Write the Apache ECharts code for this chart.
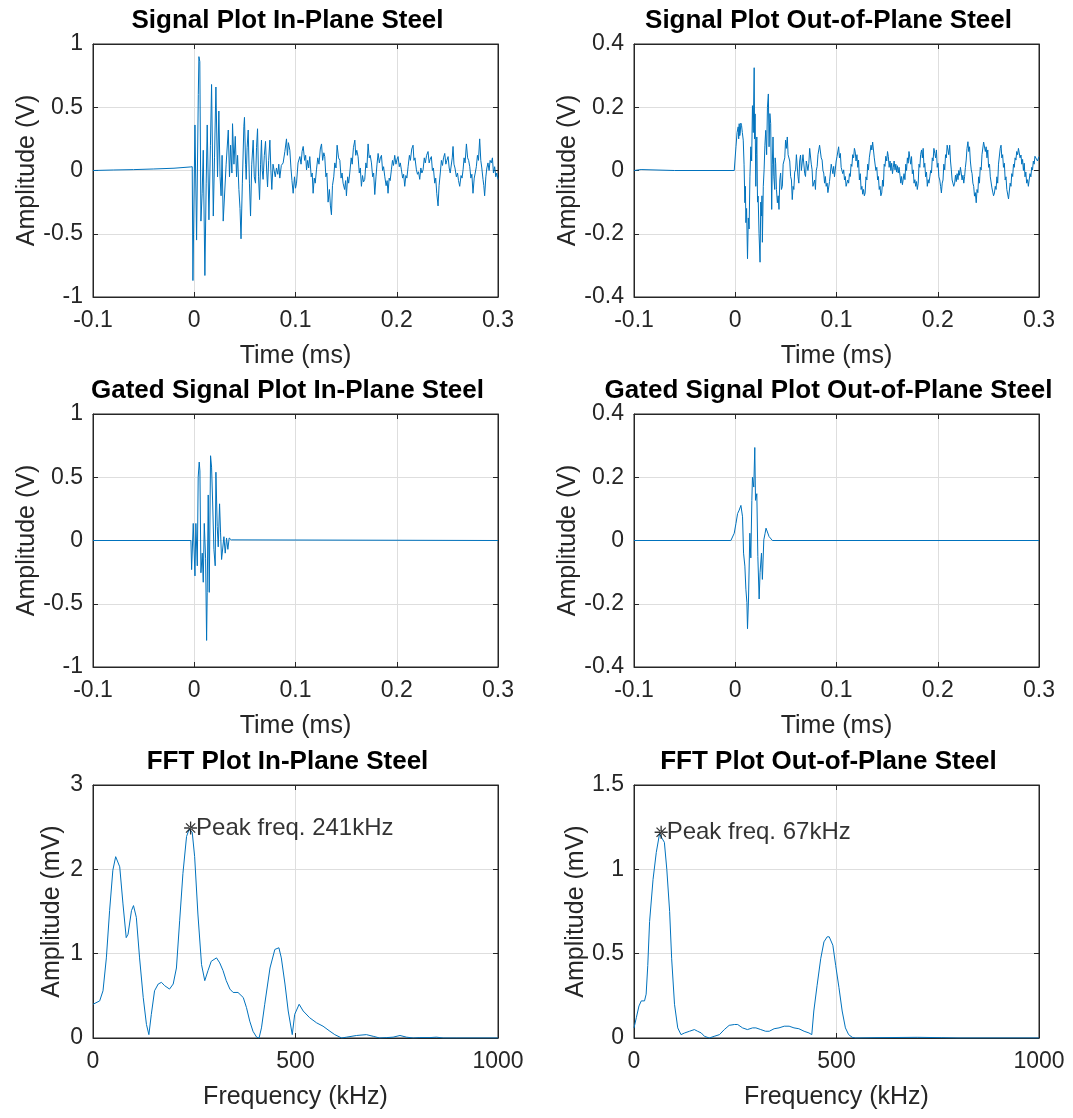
<!DOCTYPE html>
<html>
<head>
<meta charset="utf-8">
<title>Steel signal and FFT plots</title>
<script src="https://cdn.jsdelivr.net/npm/echarts@6/dist/echarts.min.js"></script>
<style>
  html, body { margin: 0; padding: 0; background: #ffffff; }
  #chart { width: 1073px; height: 1118px; }
</style>
</head>
<body>
<div id="chart"></div>
<script>
// ---- Recorded waveforms: [time (ms), amplitude (V)] ----
const inPlaneSignal = [
  [-0.100, 0.000], [-0.080, 0.004], [-0.060, 0.007], [-0.040, 0.012], [-0.020, 0.018], [-0.004, 0.028], [-0.002, 0.030],
  [-0.0013, -0.87], [0.0007, 0.36], [0.0023, -0.55], [0.0040, 0.60], [0.0046, 0.90], [0.0055, 0.86], [0.0066, -0.40],
  [0.0078, -0.18], [0.0089, 0.16], [0.0105, -0.83], [0.0118, -0.10], [0.0128, 0.36], [0.0145, -0.39], [0.0160, 0.20],
  [0.0171, 0.68], [0.0188, -0.36], [0.0200, 0.10], [0.0214, 0.66], [0.0230, -0.05], [0.0243, 0.47], [0.0255, -0.05],
  [0.0265, -0.20], [0.0275, 0.12], [0.0286, -0.40], [0.0303, -0.41], [0.0315, 0.05], [0.0336, 0.32], [0.0348, -0.05],
  [0.0359, 0.20], [0.0372, -0.02], [0.0378, 0.37], [0.0392, 0.05], [0.0405, 0.27], [0.0418, -0.05], [0.0428, 0.12],
  [0.0441, -0.15], [0.0452, -0.30], [0.0462, -0.54], [0.0475, -0.10], [0.0490, 0.35], [0.0496, 0.42], [0.0507, 0.05],
  [0.0513, -0.07], [0.0522, 0.18], [0.0533, 0.32], [0.0545, -0.10], [0.0556, -0.36], [0.0568, 0.05], [0.0582, 0.24],
  [0.0593, -0.05], [0.0605, -0.10], [0.0615, 0.18], [0.0625, 0.33], [0.0635, -0.05], [0.0645, -0.23], [0.0655, 0.05],
  [0.0664, 0.24], [0.0672, 0.00], [0.0680, -0.07], [0.0692, 0.12], [0.0704, 0.23], [0.0714, 0.02], [0.0724, -0.13],
  [0.0735, 0.08], [0.0747, 0.24], [0.0757, 0.00], [0.0766, -0.15], [0.0778, 0.05], [0.0789, 0.06], [0.0800, -0.05],
  [0.0812, 0.02], [0.0825, -0.03], [0.0835, 0.05], [0.0845, -0.06], [0.0860, 0.04], [0.0878, 0.06], [0.0895, 0.15],
  [0.0911, 0.25], [0.0920, 0.12], [0.0930, 0.22], [0.0944, 0.16], [0.0955, 0.02], [0.0965, -0.08], [0.0977, -0.18],
  [0.0990, -0.05], [0.1000, -0.14], [0.1010, -0.10], [0.1025, 0.06], [0.1043, 0.11], [0.1055, 0.05], [0.1065, 0.15],
  [0.1076, 0.19], [0.1090, 0.08], [0.1100, 0.12], [0.1109, 0.005], [0.1120, 0.08], [0.1130, 0.02], [0.1141, 0.11],
  [0.1155, -0.05], [0.1165, -0.02], [0.1174, -0.18], [0.1185, -0.06], [0.1195, -0.10], [0.1207, 0.005], [0.1220, 0.10],
  [0.1232, 0.05], [0.1245, 0.17], [0.1257, 0.21], [0.1268, 0.08], [0.1280, 0.14], [0.1289, 0.11], [0.1300, -0.05],
  [0.1310, -0.02], [0.1322, -0.25], [0.1335, -0.15], [0.1345, -0.28], [0.1355, -0.35], [0.1365, -0.12], [0.1378, -0.05],
  [0.1388, 0.06], [0.1400, 0.02], [0.1411, 0.20], [0.1425, 0.10], [0.1438, 0.08], [0.1450, -0.06], [0.1460, -0.02],
  [0.1470, -0.10], [0.1485, -0.15], [0.1495, -0.08], [0.1503, -0.20], [0.1515, -0.05], [0.1525, -0.10], [0.1536, -0.02],
  [0.1550, 0.10], [0.1560, 0.05], [0.1572, 0.18], [0.1586, 0.24], [0.1595, 0.12], [0.1605, 0.16], [0.1618, 0.11],
  [0.1630, -0.02], [0.1640, 0.02], [0.1651, -0.125], [0.1662, -0.04], [0.1672, -0.09], [0.1684, -0.07], [0.1695, 0.06],
  [0.1705, 0.02], [0.1717, 0.21], [0.1728, 0.10], [0.1738, 0.12], [0.1750, 0.06], [0.1762, -0.05], [0.1772, -0.02],
  [0.1783, -0.19], [0.1795, -0.05], [0.1805, 0.05], [0.1816, 0.135], [0.1828, 0.06], [0.1838, 0.10], [0.1849, 0.12],
  [0.1860, 0.00], [0.1870, 0.03], [0.1882, -0.05], [0.1895, -0.12], [0.1905, -0.08], [0.1914, -0.18], [0.1925, -0.06],
  [0.1935, -0.08], [0.1947, 0.005], [0.1958, 0.08], [0.1968, 0.04], [0.1980, 0.12], [0.1992, 0.05], [0.2003, 0.09],
  [0.2013, 0.11], [0.2025, 0.03], [0.2035, 0.06], [0.2046, 0.005], [0.2058, -0.06], [0.2068, -0.03], [0.2079, -0.125],
  [0.2090, -0.04], [0.2100, -0.06], [0.2112, 0.03], [0.2125, 0.12], [0.2135, 0.08], [0.2148, 0.17], [0.2161, 0.20],
  [0.2170, 0.08], [0.2180, 0.10], [0.2194, 0.005], [0.2205, -0.03], [0.2215, -0.01], [0.2227, -0.07], [0.2238, 0.02],
  [0.2248, -0.02], [0.2260, 0.005], [0.2272, 0.10], [0.2282, 0.06], [0.2295, 0.12], [0.2309, 0.15], [0.2320, 0.06],
  [0.2330, 0.09], [0.2342, 0.11], [0.2352, 0.00], [0.2362, 0.02], [0.2375, -0.10], [0.2385, -0.06], [0.2395, -0.18],
  [0.2408, -0.28], [0.2418, -0.12], [0.2430, -0.02], [0.2441, 0.08], [0.2452, 0.04], [0.2462, 0.10], [0.2474, 0.135],
  [0.2485, 0.05], [0.2495, 0.08], [0.2507, 0.11], [0.2518, 0.02], [0.2528, -0.02], [0.2539, -0.02], [0.2548, 0.10],
  [0.2556, 0.19], [0.2565, 0.05], [0.2575, 0.02], [0.2589, -0.05], [0.2600, -0.02], [0.2610, -0.08], [0.2622, -0.125],
  [0.2635, -0.04], [0.2645, -0.06], [0.2655, 0.005], [0.2665, 0.10], [0.2675, 0.06], [0.2688, 0.21], [0.2700, 0.10],
  [0.2710, 0.08], [0.2721, 0.03], [0.2732, -0.06], [0.2742, -0.03], [0.2753, -0.18], [0.2765, -0.06], [0.2775, -0.02],
  [0.2786, 0.03], [0.2797, 0.12], [0.2807, 0.08], [0.2819, 0.25], [0.2830, 0.08], [0.2840, 0.02], [0.2852, -0.07],
  [0.2860, -0.12], [0.2868, -0.20], [0.2880, -0.05], [0.2890, 0.02], [0.2901, 0.06], [0.2912, 0.00], [0.2922, 0.08],
  [0.2934, 0.06], [0.2945, 0.10], [0.2955, -0.02], [0.2967, 0.03], [0.2978, -0.05], [0.2988, -0.02], [0.3000, -0.07]
];

const outPlaneSignal = [
  [-0.100, 0.000], [-0.093, 0.003], [-0.0925, 0.000], [-0.060, 0.000], [-0.001, 0.000],
  [0.0007, 0.075], [0.0018, 0.12], [0.0029, 0.138], [0.0034, 0.10], [0.0039, 0.148], [0.0044, 0.11], [0.0049, 0.117],
  [0.0055, 0.15], [0.0062, 0.143], [0.0070, 0.12], [0.0079, 0.096], [0.0087, 0.02], [0.0095, -0.102], [0.0100, -0.05],
  [0.0105, -0.165], [0.0112, -0.12], [0.0121, -0.279], [0.0129, -0.15], [0.0137, -0.185], [0.0145, -0.02], [0.0154, 0.075],
  [0.0162, 0.03], [0.0170, 0.205], [0.0178, 0.12], [0.0187, 0.325], [0.0191, 0.10], [0.0196, 0.179], [0.0203, -0.050],
  [0.0208, 0.05], [0.0213, 0.106], [0.0220, -0.10], [0.0226, -0.081], [0.0235, -0.20], [0.0245, -0.290], [0.0252, -0.10],
  [0.0259, -0.144], [0.0264, -0.08], [0.0268, -0.227], [0.0277, -0.05], [0.0285, 0.002], [0.0293, 0.08], [0.0301, 0.127],
  [0.0310, 0.05], [0.0318, 0.20], [0.0327, 0.242], [0.0334, 0.075], [0.0342, 0.18], [0.0350, 0.148], [0.0360, -0.123],
  [0.0366, 0.02], [0.0373, 0.106], [0.0381, -0.02], [0.0390, -0.060], [0.0394, 0.04], [0.0399, 0.023],
  [0.0407, -0.06], [0.0416, -0.102], [0.0424, -0.08], [0.0432, -0.123], [0.0440, -0.03], [0.0448, -0.008], [0.0456, -0.06],
  [0.0465, -0.050], [0.0473, 0.02], [0.0481, 0.023], [0.0489, 0.04], [0.0497, 0.096], [0.0505, 0.07], [0.0514, 0.106],
  [0.0522, 0.05], [0.0530, 0.044], [0.0538, 0.03], [0.0547, -0.019], [0.0555, -0.03], [0.0563, -0.092], [0.0571, -0.05],
  [0.0579, -0.060], [0.0587, -0.005], [0.0596, 0.002], [0.0604, 0.05], [0.0612, 0.044], [0.0620, -0.02], [0.0628, -0.040],
  [0.0636, 0.03], [0.0645, 0.049], [0.0653, 0.00], [0.0661, 0.002], [0.0669, 0.05], [0.0678, 0.044], [0.0686, -0.01],
  [0.0694, -0.019], [0.0702, 0.03], [0.0710, 0.033], [0.0718, 0.00], [0.0727, 0.023], [0.0735, 0.07], [0.0743, 0.075],
  [0.0751, 0.02], [0.0759, 0.002], [0.0767, -0.05], [0.0776, -0.050], [0.0784, -0.03], [0.0792, -0.060], [0.0800, 0.00],
  [0.0809, 0.013], [0.0817, 0.05], [0.0825, 0.044], [0.0833, 0.08], [0.0841, 0.080], [0.0849, 0.04], [0.0858, 0.033],
  [0.0866, 0.00], [0.0874, -0.008], [0.0882, -0.04], [0.0890, -0.019], [0.0898, -0.05], [0.0907, -0.040], [0.0915, -0.07],
  [0.0923, -0.071], [0.0931, -0.035], [0.0940, -0.040], [0.0948, 0.02], [0.0956, 0.023], [0.0964, -0.01], [0.0972, 0.013],
  [0.0980, -0.02], [0.0989, -0.019], [0.0997, 0.03], [0.1005, 0.044], [0.1013, 0.05], [0.1021, 0.075], [0.1029, 0.04],
  [0.1038, 0.054], [0.1046, 0.01], [0.1054, 0.013], [0.1062, -0.01], [0.1071, 0.002], [0.1079, -0.03], [0.1087, -0.019],
  [0.1095, -0.05], [0.1103, -0.050], [0.1111, -0.03], [0.1120, -0.040], [0.1128, -0.01], [0.1136, -0.019], [0.1144, 0.02],
  [0.1152, 0.013], [0.1160, 0.05], [0.1169, 0.040], [0.1177, 0.07], [0.1185, 0.059], [0.1193, 0.03], [0.1202, 0.050],
  [0.1210, 0.01], [0.1218, 0.033], [0.1226, -0.03], [0.1235, -0.010], [0.1243, -0.06], [0.1251, -0.050], [0.1259, -0.075],
  [0.1267, -0.060], [0.1275, -0.08], [0.1283, -0.071], [0.1291, -0.02], [0.1300, -0.030], [0.1308, 0.02], [0.1316, 0.002],
  [0.1324, 0.04], [0.1333, 0.040], [0.1341, 0.08], [0.1349, 0.065], [0.1357, 0.09], [0.1365, 0.085], [0.1373, 0.04],
  [0.1381, 0.044], [0.1389, 0.00], [0.1398, 0.010], [0.1406, -0.03], [0.1414, -0.019], [0.1422, -0.06], [0.1430, -0.050],
  [0.1438, -0.08], [0.1447, -0.071], [0.1455, -0.03], [0.1463, -0.050], [0.1471, 0.02], [0.1479, 0.013], [0.1487, 0.045],
  [0.1496, 0.030], [0.1504, 0.06], [0.1512, 0.044], [0.1520, 0.01], [0.1529, 0.030], [0.1537, 0.00], [0.1545, 0.023],
  [0.1553, -0.01], [0.1561, 0.010], [0.1569, 0.03], [0.1578, 0.002], [0.1586, 0.02], [0.1594, -0.005], [0.1602, 0.015],
  [0.1610, -0.008], [0.1618, 0.01], [0.1627, -0.015], [0.1635, -0.04], [0.1643, -0.019], [0.1651, -0.045], [0.1659, -0.040],
  [0.1667, -0.01], [0.1676, -0.029], [0.1684, 0.02], [0.1692, 0.000], [0.1700, 0.04], [0.1708, 0.023], [0.1716, 0.06],
  [0.1725, 0.054], [0.1733, 0.02], [0.1741, 0.044], [0.1749, -0.01], [0.1758, 0.002], [0.1766, -0.04], [0.1774, -0.029],
  [0.1782, -0.05], [0.1790, -0.035], [0.1798, -0.06], [0.1807, -0.040], [0.1815, 0.02], [0.1823, 0.010], [0.1831, 0.05],
  [0.1840, 0.065], [0.1848, 0.04], [0.1856, 0.070], [0.1864, 0.01], [0.1872, 0.023], [0.1880, -0.02], [0.1889, -0.005],
  [0.1897, -0.05], [0.1905, -0.029], [0.1913, -0.04], [0.1922, -0.020], [0.1930, 0.00], [0.1938, -0.008], [0.1946, 0.04],
  [0.1954, 0.030], [0.1962, 0.07], [0.1971, 0.054], [0.1979, 0.04], [0.1987, 0.065], [0.1995, 0.01], [0.2003, 0.023],
  [0.2011, -0.02], [0.2020, -0.030], [0.2028, -0.05], [0.2036, -0.071], [0.2044, -0.04], [0.2052, -0.030], [0.2060, 0.02],
  [0.2069, 0.002], [0.2077, 0.05], [0.2085, 0.040], [0.2093, 0.08], [0.2101, 0.075], [0.2109, 0.05], [0.2118, 0.080],
  [0.2126, 0.03], [0.2134, 0.002], [0.2142, -0.03], [0.2150, -0.025], [0.2158, -0.05], [0.2167, -0.040], [0.2175, -0.015],
  [0.2183, -0.035], [0.2191, -0.01], [0.2200, -0.029], [0.2208, 0.00], [0.2216, -0.015], [0.2224, 0.01], [0.2232, -0.008],
  [0.2240, -0.03], [0.2249, -0.015], [0.2257, -0.04], [0.2265, -0.019], [0.2273, 0.01], [0.2281, 0.033], [0.2289, 0.07],
  [0.2298, 0.091], [0.2306, 0.06], [0.2314, 0.075], [0.2322, 0.03], [0.2331, 0.002], [0.2339, -0.01], [0.2347, -0.040],
  [0.2355, -0.05], [0.2363, -0.081], [0.2371, -0.07], [0.2380, -0.102], [0.2388, -0.06], [0.2396, -0.070], [0.2404, -0.02],
  [0.2412, -0.040], [0.2420, 0.01], [0.2429, 0.002], [0.2437, 0.05], [0.2445, 0.045], [0.2453, 0.09], [0.2462, 0.085],
  [0.2470, 0.06], [0.2478, 0.075], [0.2486, 0.04], [0.2494, 0.065], [0.2502, 0.01], [0.2511, 0.020], [0.2519, -0.02],
  [0.2527, -0.019], [0.2535, -0.055], [0.2543, -0.050], [0.2551, -0.08], [0.2560, -0.071], [0.2568, -0.05], [0.2576, -0.060],
  [0.2584, -0.02], [0.2592, -0.040], [0.2600, 0.02], [0.2609, 0.020], [0.2617, 0.07], [0.2625, 0.080], [0.2633, 0.04],
  [0.2641, 0.050], [0.2649, 0.01], [0.2658, 0.023], [0.2666, -0.03], [0.2674, -0.020], [0.2682, -0.06], [0.2691, -0.060],
  [0.2699, -0.09], [0.2707, -0.086], [0.2715, -0.04], [0.2723, -0.050], [0.2731, -0.01], [0.2740, -0.019], [0.2748, 0.02],
  [0.2756, 0.010], [0.2764, 0.04], [0.2772, 0.033], [0.2780, 0.06], [0.2789, 0.050], [0.2797, 0.07], [0.2805, 0.065],
  [0.2813, 0.04], [0.2822, 0.049], [0.2830, 0.02], [0.2838, 0.035], [0.2846, 0.00], [0.2854, 0.023], [0.2862, -0.02],
  [0.2870, -0.005], [0.2878, -0.04], [0.2887, -0.029], [0.2895, -0.05], [0.2903, -0.045], [0.2911, -0.01], [0.2920, -0.020],
  [0.2928, 0.01], [0.2936, 0.002], [0.2944, 0.03], [0.2952, 0.020], [0.2960, 0.045], [0.2969, 0.039], [0.2985, 0.03],
  [0.3000, 0.044]
];

// ---- Gated waveforms: [time (ms), amplitude (V)] ----
const inPlaneGated = [
  [-0.100, 0], [-0.0033, 0], [-0.0026, -0.23], [-0.0010, 0.135], [0.0007, -0.28], [0.0016, 0.135], [0.0030, -0.20],
  [0.0039, 0.50], [0.0049, 0.62], [0.0056, 0.55], [0.0066, -0.255], [0.0079, -0.10], [0.0089, -0.33], [0.0099, 0.135],
  [0.0112, -0.14], [0.0122, -0.79], [0.0128, -0.41], [0.0138, 0.36], [0.0148, -0.41], [0.0161, 0.67], [0.0171, 0.58],
  [0.0181, 0.32], [0.0194, -0.07], [0.0207, -0.20], [0.0214, 0.54], [0.0227, 0.11], [0.0237, -0.05], [0.0250, 0.29],
  [0.0260, 0.06], [0.0270, -0.15], [0.0280, -0.16], [0.0293, 0.03], [0.0306, -0.10], [0.0319, 0.02], [0.0332, -0.07],
  [0.0345, 0.02], [0.0365, 0.005], [0.0378, 0], [0.300, 0]
];

const outPlaneGated = [
  [-0.100, 0], [-0.0043, 0], [-0.0010, 0.023], [0.0007, 0.054], [0.0023, 0.085], [0.0039, 0.096], [0.0056, 0.111],
  [0.0072, 0.075], [0.0082, -0.040], [0.0095, -0.081], [0.0105, -0.154], [0.0115, -0.196], [0.0121, -0.279],
  [0.0131, -0.185], [0.0144, 0.023], [0.0154, -0.055], [0.0164, 0.127], [0.0170, 0.200], [0.0183, 0.169],
  [0.0193, 0.294], [0.0200, 0.127], [0.0213, 0.148], [0.0223, -0.050], [0.0236, -0.185], [0.0245, -0.102],
  [0.0259, -0.040], [0.0268, -0.123], [0.0282, 0.002], [0.0295, 0.023], [0.0304, 0.039], [0.0318, 0.033],
  [0.0334, 0.0125], [0.0350, 0.007], [0.0367, 0], [0.300, 0]
];

// ---- Spectra: [frequency (kHz), amplitude (mV)] ----
const inPlaneFFT = [
  [0, 0.40], [16.5, 0.44], [24.7, 0.56], [33, 0.95], [41, 1.51], [49, 1.99], [56, 2.15], [60, 2.17], [66, 2.03],
  [74, 1.59], [82, 1.19], [86.5, 1.23], [95, 1.51], [100, 1.57], [107, 1.43], [115, 0.95], [124, 0.48], [132, 0.16],
  [138, 0.04], [144, 0.28], [152, 0.56], [161, 0.64], [169, 0.66], [177, 0.62], [189, 0.58], [198, 0.64], [206, 0.83],
  [214, 1.39], [222, 1.95], [231, 2.39], [237, 2.47], [241, 2.49], [245, 2.44], [251, 2.15], [259, 1.47], [268, 0.87],
  [276, 0.68], [284, 0.80], [292, 0.91], [305, 0.95], [313, 0.89], [321, 0.80], [329, 0.68], [338, 0.58], [346, 0.54],
  [358, 0.54], [371, 0.48], [379, 0.36], [387, 0.20], [395, 0.08], [404, 0.01], [410, 0.00], [416, 0.12], [424, 0.40],
  [437, 0.83], [449, 1.05], [459, 1.07], [465, 0.95], [474, 0.64], [482, 0.32], [492, 0.04], [498, 0.28], [509, 0.40],
  [519, 0.32], [535, 0.24], [552, 0.18], [568, 0.14], [585, 0.08], [597, 0.04], [614, 0.00], [626, 0.01], [651, 0.03],
  [675, 0.04], [692, 0.02], [708, 0.00], [725, 0.005], [741, 0.01], [758, 0.03], [774, 0.01], [791, 0.00], [807, 0.005],
  [832, 0.005], [848, 0.01], [865, 0.00], [898, 0.00], [1000, 0.00]
];

const outPlaneFFT = [
  [0, 0.06], [5.7, 0.12], [12.3, 0.19], [18, 0.22], [26, 0.22], [30, 0.26], [34, 0.43], [38.5, 0.69], [47, 0.94],
  [55, 1.10], [63, 1.21], [67, 1.22], [75, 1.16], [81, 1.00], [88, 0.75], [93, 0.47], [100, 0.20], [108, 0.06],
  [116, 0.02], [125, 0.03], [137, 0.04], [149, 0.05], [157, 0.04], [166, 0.03], [174, 0.01], [186, 0.00], [198, 0.01],
  [211, 0.02], [223, 0.05], [235, 0.075], [248, 0.08], [256, 0.08], [268, 0.06], [280, 0.05], [293, 0.06], [301, 0.06],
  [313, 0.05], [325, 0.04], [334, 0.04], [346, 0.055], [358, 0.06], [371, 0.07], [383, 0.07], [395, 0.06], [407, 0.055],
  [420, 0.04], [432, 0.03], [439, 0.02], [444, 0.16], [452, 0.31], [461, 0.47], [469, 0.57], [477, 0.60], [482, 0.60],
  [491, 0.55], [498, 0.43], [506, 0.30], [514, 0.16], [522, 0.06], [530, 0.02], [539, 0.004], [547, 0.00],
  [600, 0.002], [700, 0.004], [760, 0.002], [800, 0.00], [1000, 0.00]
];

// Detected spectral peaks: [frequency (kHz), amplitude (mV)]
const inPlanePeak = [241, 2.49];
const outPlanePeak = [67, 1.22];

// Axis ranges: [min, max, interval]
const timeAxis = [-0.1, 0.3, 0.1];
const freqAxis = [0, 1000, 500];
const inPlaneVolt = [-1, 1, 0.5];
const outPlaneVolt = [-0.4, 0.4, 0.2];
const inPlaneMilliVolt = [0, 3, 1];
const outPlaneMilliVolt = [0, 1.5, 0.5];

// ---- Layout and styling ----
const FONT = '"Liberation Sans", Arial, Helvetica, sans-serif';
const INK = '#262626';
const TRACE = '#0072BD';
const GRID_LINE = '#dedede';
const colLeft = [93, 634];
const rowTop = [44, 414, 785];
const PW = 405, PH = 253;

const panels = [
  { title: 'Signal Plot In-Plane Steel', col: 0, row: 0, x: timeAxis, y: inPlaneVolt,
    xName: 'Time (ms)', yName: 'Amplitude (V)', data: inPlaneSignal },
  { title: 'Signal Plot Out-of-Plane Steel', col: 1, row: 0, x: timeAxis, y: outPlaneVolt,
    xName: 'Time (ms)', yName: 'Amplitude (V)', data: outPlaneSignal },
  { title: 'Gated Signal Plot In-Plane Steel', col: 0, row: 1, x: timeAxis, y: inPlaneVolt,
    xName: 'Time (ms)', yName: 'Amplitude (V)', data: inPlaneGated },
  { title: 'Gated Signal Plot Out-of-Plane Steel', col: 1, row: 1, x: timeAxis, y: outPlaneVolt,
    xName: 'Time (ms)', yName: 'Amplitude (V)', data: outPlaneGated },
  { title: 'FFT Plot In-Plane Steel', col: 0, row: 2, x: freqAxis, y: inPlaneMilliVolt,
    xName: 'Frequency (kHz)', yName: 'Amplitude (mV)', data: inPlaneFFT, peak: inPlanePeak },
  { title: 'FFT Plot Out-of-Plane Steel', col: 1, row: 2, x: freqAxis, y: outPlaneMilliVolt,
    xName: 'Frequency (kHz)', yName: 'Amplitude (mV)', data: outPlaneFFT, peak: outPlanePeak }
];

// MATLAB-style asterisk marker: plus and cross arms as thin bars
const ASTERISK = 'path://M-1,-10L1,-10L1,10L-1,10Z M-10,-1L10,-1L10,1L-10,1Z ' +
  'M-7.8,-6.4L6.4,7.8L7.8,6.4L-6.4,-7.8Z M-7.8,6.4L6.4,-7.8L7.8,-6.4L-6.4,7.8Z';

// Plain tick text (no thousands separators, no float noise)
const tickText = v => String(+Number(v).toFixed(6));

const grids = [], xAxes = [], yAxes = [], series = [], graphics = [];

panels.forEach((p, i) => {
  const left = colLeft[p.col], top = rowTop[p.row];
  grids.push({ left: left, top: top, width: PW, height: PH, containLabel: false,
    show: true, borderColor: INK, borderWidth: 1, backgroundColor: '#ffffff' });

  const tickStyle = { show: true, inside: true, length: 5, lineStyle: { color: INK, width: 1 } };
  const axisLine = { show: true, onZero: false, lineStyle: { color: INK, width: 1 } };
  const labelStyle = { color: INK, fontFamily: FONT, fontSize: 23, formatter: tickText };

  // bottom x axis with labels and grid
  xAxes.push({
    type: 'value', gridIndex: i, position: 'bottom',
    min: p.x[0], max: p.x[1], interval: p.x[2],
    axisLine: axisLine, axisTick: tickStyle,
    axisLabel: Object.assign({ margin: 12, showMinLabel: true, showMaxLabel: true }, labelStyle),
    splitLine: { show: true, lineStyle: { color: GRID_LINE, width: 1 } },
    name: p.xName, nameLocation: 'middle', nameGap: 47,
    nameTextStyle: { color: INK, fontFamily: FONT, fontSize: 25 }
  });
  // top x axis: ticks only
  xAxes.push({
    type: 'value', gridIndex: i, position: 'top',
    min: p.x[0], max: p.x[1], interval: p.x[2],
    axisLine: axisLine, axisTick: tickStyle,
    axisLabel: { show: false }, splitLine: { show: false }
  });
  // left y axis with labels and grid; the name keeps clear of the tick labels
  yAxes.push({
    type: 'value', gridIndex: i, position: 'left',
    min: p.y[0], max: p.y[1], interval: p.y[2],
    axisLine: axisLine, axisTick: tickStyle,
    axisLabel: Object.assign({ margin: 10, showMinLabel: true, showMaxLabel: true }, labelStyle),
    splitLine: { show: true, lineStyle: { color: GRID_LINE, width: 1 } },
    name: p.yName, nameLocation: 'middle', nameGap: 28, nameRotate: 90,
    nameTextStyle: { color: INK, fontFamily: FONT, fontSize: 25 }
  });
  // right y axis: ticks only
  yAxes.push({
    type: 'value', gridIndex: i, position: 'right',
    min: p.y[0], max: p.y[1], interval: p.y[2],
    axisLine: axisLine, axisTick: tickStyle,
    axisLabel: { show: false }, splitLine: { show: false }
  });

  series.push({
    type: 'line', xAxisIndex: 2 * i, yAxisIndex: 2 * i,
    data: p.data, showSymbol: false, symbol: 'none', smooth: false,
    sampling: null, clip: true,
    lineStyle: { color: TRACE, width: 1 },
    silent: true, z: 3
  });

  if (p.peak) {
    series.push({
      type: 'scatter', xAxisIndex: 2 * i, yAxisIndex: 2 * i,
      data: [p.peak], symbol: ASTERISK, symbolSize: 13,
      itemStyle: { color: '#000000' }, silent: true, z: 5,
      label: {
        show: true, position: 'right', distance: -1,
        formatter: 'Peak freq. ' + p.peak[0] + 'kHz',
        color: '#000000', fontFamily: FONT, fontSize: 24
      }
    });
  }

  graphics.push({
    type: 'text', x: left + PW / 2 - 8, y: top - 23, z: 10,
    style: {
      text: p.title, fill: '#000000', font: 'bold 26px ' + FONT,
      textAlign: 'center', textVerticalAlign: 'middle', verticalAlign: 'middle'
    }
  });
});

const chart = echarts.init(document.getElementById('chart'), null, { renderer: 'canvas' });
chart.setOption({
  animation: false,
  backgroundColor: '#ffffff',
  grid: grids,
  xAxis: xAxes,
  yAxis: yAxes,
  series: series,
  graphic: graphics
});
</script>
</body>
</html>
